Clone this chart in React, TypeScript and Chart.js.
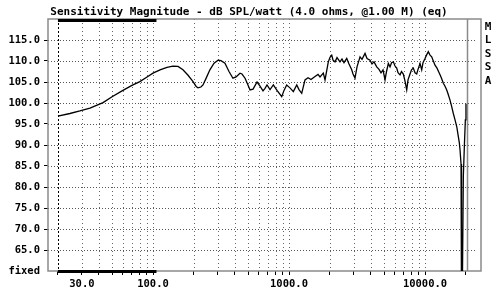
import React, { useEffect, useRef } from 'react';
import { Chart, registerables } from 'chart.js';

Chart.register(...registerables);

const titleText = 'Sensitivity Magnitude - dB SPL/watt (4.0 ohms, @1.00 M) (eq)';
const sideLetters = ['M', 'L', 'S', 'S', 'A'];

const freqHz = [
  20, 24.5, 29, 34.4, 42.9, 50, 59.2, 70, 80, 90.4, 100, 112.6, 126.7, 140, 152.7, 166, 181, 197, 207, 214,
  225, 233, 245, 262, 281, 301, 316, 338, 362, 387, 408, 436, 451, 475, 500, 517, 544, 582, 612, 644,
  666, 689, 725, 767, 816, 884, 919, 961, 1016, 1076, 1140, 1184, 1240, 1311, 1380, 1451, 1553, 1634, 1690, 1787,
  1840, 1945, 2002, 2061, 2107, 2179, 2254, 2371, 2453, 2537, 2657, 2762, 2891, 2955, 3057, 3162, 3328, 3442, 3622, 3746,
  3941, 4076, 4217, 4415, 4589, 4747, 4912, 5081, 5212, 5373, 5530, 5673, 5848, 6018, 6194, 6333, 6550, 6718, 6926, 7128,
  7336, 7499, 7757, 7956, 8203, 8443, 8690, 8883, 9188, 9456, 9667, 10000, 10256, 10575, 10884, 11200, 11450, 11844, 12253, 12570,
  12893, 13223, 13633, 14033, 14441, 14759, 15270, 15664, 16148, 16620, 17106, 17578, 17878, 18094, 18400, 18500, 18600, 18750, 19130, 19500,
  19800, 20000,
];
const splDb = [
  96.9, 97.5, 98.1, 98.8, 100.1, 101.5, 102.9, 104.2, 105.1, 106.2, 107.1, 107.9, 108.5, 108.8, 108.7, 107.9, 106.6, 105.1, 104.0, 103.6,
  103.8, 104.3, 105.8, 107.9, 109.5, 110.2, 110.1, 109.5, 107.5, 105.9, 106.2, 107.1, 106.9, 105.9, 104.2, 103.1, 103.3, 105.0, 104.0, 102.9,
  103.5, 104.3, 103.2, 104.3, 103.0, 101.5, 103.0, 104.3, 103.6, 102.7, 104.3, 103.2, 102.3, 105.5, 106.0, 105.6, 106.3, 106.8, 106.2, 107.1,
  105.5, 109.8, 110.9, 111.4, 110.2, 109.8, 110.8, 109.8, 110.5, 109.6, 110.6, 109.3, 107.9, 106.9, 105.9, 108.6, 111.0, 110.4, 111.8, 110.6,
  110.2, 109.3, 109.8, 108.6, 108.0, 107.2, 107.9, 105.5, 107.5, 109.4, 108.6, 109.6, 109.8, 108.8, 108.3, 107.2, 106.7, 107.5, 106.9, 105.2,
  103.1, 105.5, 106.9, 107.9, 108.3, 107.2, 106.9, 108.0, 109.4, 107.9, 109.6, 110.6, 111.4, 112.2, 111.4, 111.0, 110.2, 109.0, 108.3, 107.5,
  106.7, 105.9, 104.7, 104.0, 103.1, 102.2, 100.7, 99.3, 97.5, 96.0, 94.4, 92.0, 90.5, 88.8, 85.5, 80.0, 50.0, 50.0, 82.5, 90.4,
  96.0, 99.8,
];

const xGridValues = [
  20, 30, 40, 50, 60, 70, 80, 90, 100, 200, 300, 400, 500, 600, 700, 800, 900, 1000,
  2000, 3000, 4000, 5000, 6000, 7000, 8000, 9000, 10000, 20000,
];
const xLabelValues = [30, 100, 1000, 10000];
const yGridValues = [65, 70, 75, 80, 85, 90, 95, 100, 105, 110, 115];
const xRange = [16.9, 25800];
const yRange = [60, 120];
const fixedBand = [20, 106];
const markerLowHz = 20;
const markerHighHz = 20000;

const FONT = '"DejaVu Sans Mono", monospace';

const decorPlugin = {
  id: 'decor',
  beforeDatasetsDraw(chart: any) {
    const { ctx, chartArea: a, scales } = chart;
    const x = scales.x;
    const y = scales.y;
    ctx.save();
    ctx.lineWidth = 1;
    ctx.strokeStyle = '#555';
    ctx.setLineDash([1, 2]);
    for (const v of yGridValues) {
      const py = Math.round(y.getPixelForValue(v)) + 0.5;
      ctx.beginPath();
      ctx.moveTo(a.left, py);
      ctx.lineTo(a.right - 4, py);
      ctx.stroke();
    }
    ctx.strokeStyle = '#666';
    ctx.setLineDash([1, 3]);
    for (const v of xGridValues) {
      if (v === markerLowHz || v === markerHighHz) continue;
      const px = Math.round(x.getPixelForValue(v)) + 0.5;
      ctx.beginPath();
      ctx.moveTo(px, a.top);
      ctx.lineTo(px, a.bottom);
      ctx.stroke();
    }
    // 20 Hz dashed marker
    ctx.strokeStyle = '#000';
    ctx.setLineDash([2, 2]);
    let px = Math.round(x.getPixelForValue(markerLowHz)) + 0.5;
    ctx.beginPath();
    ctx.moveTo(px, a.top);
    ctx.lineTo(px, a.bottom);
    ctx.stroke();
    // 20 kHz solid gray marker
    ctx.setLineDash([]);
    ctx.strokeStyle = '#8a8a8a';
    ctx.lineWidth = 1.5;
    px = Math.round(x.getPixelForValue(markerHighHz)) + 1.5;
    ctx.beginPath();
    ctx.moveTo(px, a.top);
    ctx.lineTo(px, a.bottom);
    ctx.stroke();
    // frame
    ctx.strokeStyle = '#8a8a8a';
    ctx.lineWidth = 1.5;
    ctx.strokeRect(a.left, a.top, a.right - a.left, a.bottom - a.top);
    // thick bars
    ctx.fillStyle = '#000';
    const b0 = x.getPixelForValue(fixedBand[0]);
    const b1 = x.getPixelForValue(fixedBand[1]);
    ctx.fillRect(b0, a.top, b1 - b0, 3);
    ctx.fillRect(b0, a.bottom - 1, b1 - b0, 3);
    ctx.restore();
  },
  afterDraw(chart: any) {
    const { ctx, chartArea: a } = chart;
    ctx.save();
    ctx.fillStyle = '#000';
    ctx.font = `bold 11px ${FONT}`;
    ctx.textAlign = 'center';
    ctx.textBaseline = 'alphabetic';
    ctx.fillText(titleText, 249, 15);
    ctx.textBaseline = 'middle';
    sideLetters.forEach((ch, i) => {
      ctx.fillText(ch, a.right + 7, 27 + i * 13.5);
    });
    ctx.restore();
  },
};

export default function App() {
  const canvasRef = useRef<HTMLCanvasElement | null>(null);

  useEffect(() => {
    if (!canvasRef.current) return;
    const chart = new Chart(canvasRef.current, {
      type: 'line',
      data: {
        datasets: [
          {
            data: freqHz.map((f, i) => ({ x: f, y: splDb[i] })),
            borderColor: '#000',
            borderWidth: 1.3,
            pointRadius: 0,
            tension: 0,
            fill: false,
          },
        ],
      },
      options: {
        animation: false,
        responsive: false,
        devicePixelRatio: 1,
        parsing: false,
        layout: { padding: { top: 19, right: 19, left: 0, bottom: 0 } },
        plugins: { legend: { display: false }, tooltip: { enabled: false }, title: { display: false } },
        scales: {
          x: {
            type: 'logarithmic',
            min: xRange[0],
            max: xRange[1],
            afterBuildTicks: (scale: any) => {
              scale.ticks = xGridValues.map((v) => ({ value: v }));
            },
            afterFit: (scale: any) => {
              scale.height = 25;
            },
            border: { display: false },
            grid: {
              drawOnChartArea: false,
              drawTicks: true,
              tickLength: 4,
              color: '#000',
              lineWidth: 1,
            },
            ticks: {
              autoSkip: false,
              maxRotation: 0,
              padding: 3,
              color: '#000',
              font: { family: FONT, size: 10.5, weight: 'bold' },
              callback: (v: any) => (xLabelValues.includes(Number(v)) ? Number(v).toFixed(1) : ''),
            },
          },
          y: {
            type: 'linear',
            min: yRange[0],
            max: yRange[1],
            afterFit: (scale: any) => {
              scale.width = 48;
            },
            border: { display: false },
            grid: {
              drawOnChartArea: false,
              drawTicks: true,
              tickLength: 4,
              color: (c: any) =>
                c.tick && (c.tick.value === yRange[0] || c.tick.value === yRange[1]) ? 'rgba(0,0,0,0)' : '#000',
            },
            ticks: {
              stepSize: 5,
              padding: 4,
              color: '#000',
              font: { family: FONT, size: 10.5, weight: 'bold' },
              callback: (v: any) => {
                const n = Number(v);
                if (n === yRange[1]) return '';
                if (n === yRange[0]) return 'fixed';
                return n.toFixed(1);
              },
            },
          },
        },
      },
      plugins: [decorPlugin],
    });
    return () => chart.destroy();
  }, []);

  return (
    <div style={{ position: 'fixed', left: 0, top: 0, width: 500, height: 296, background: '#fff' }}>
      <canvas ref={canvasRef} width={500} height={296} style={{ display: 'block', width: 500, height: 296 }} />
    </div>
  );
}
